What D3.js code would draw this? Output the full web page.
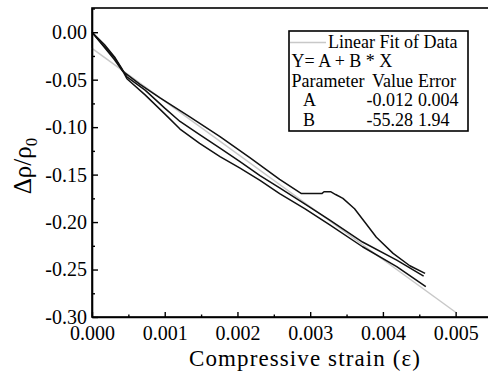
<!DOCTYPE html>
<html>
<head>
<meta charset="utf-8">
<script src="https://cdn.jsdelivr.net/npm/d3@7"></script>
<style>
  body { margin: 0; background: #fff; }
  svg { display: block; font-family: 'Liberation Serif', 'Times New Roman', serif; }
</style>
</head>
<body>
<div id="chart"></div>
<script>
var curveA = [[0,0],[0.00017,-0.016],[0.00031,-0.029],[0.00042,-0.041],[0.00066,-0.055],[0.00093,-0.069],
  [0.00134,-0.089],[0.00176,-0.110],[0.00217,-0.132],[0.00258,-0.155],[0.00288,-0.170],[0.00316,-0.170],
  [0.00319,-0.168],[0.00328,-0.168],[0.00335,-0.171],[0.00345,-0.175],[0.00361,-0.186],[0.00375,-0.200],
  [0.00391,-0.216],[0.00414,-0.233],[0.00437,-0.246],[0.00458,-0.254]];

var curveB = [[0,0],[0.00017,-0.013],[0.00031,-0.026],[0.00040,-0.037],[0.00048,-0.047],[0.00073,-0.061],
  [0.00100,-0.080],[0.00121,-0.094],[0.00148,-0.108],[0.00176,-0.122],[0.00203,-0.136],[0.00231,-0.151],
  [0.00258,-0.164],[0.00293,-0.181],[0.00327,-0.198],[0.00372,-0.221],[0.00419,-0.240],[0.00456,-0.257]];

var curveC = [[0,0],[0.00017,-0.015],[0.00031,-0.027],[0.00041,-0.039],[0.00048,-0.049],[0.00073,-0.066],
  [0.00100,-0.086],[0.00121,-0.102],[0.00148,-0.117],[0.00176,-0.131],[0.00203,-0.143],[0.00231,-0.156],
  [0.00258,-0.170],[0.00293,-0.186],[0.00327,-0.203],[0.00372,-0.226],[0.00419,-0.247],[0.00459,-0.268]];

var fitLine = [[0,-0.017],[0.005,-0.295]];

var xTicks = [0, 0.001, 0.002, 0.003, 0.004, 0.005];
var xTickLabels = ['0.000', '0.001', '0.002', '0.003', '0.004', '0.005'];
var xMinor = [0.0005, 0.0015, 0.0025, 0.0035, 0.0045];
var yTicks = [0, -0.05, -0.10, -0.15, -0.20, -0.25, -0.30];
var yTickLabels = ['0.00', '-0.05', '-0.10', '-0.15', '-0.20', '-0.25', '-0.30'];
var yMinor = [0.025, -0.025, -0.075, -0.125, -0.175, -0.225, -0.275];

var fitRows = [
  ['Y= A + B * X', '', ''],
  ['Parameter', 'Value', 'Error'],
  ['A', '-0.012', '0.004'],
  ['B', '-55.28', '1.94']
];

var settings = {
  width: 488,
  height: 373,
  left: 92,
  right: 492,
  top: 8,
  bottom: 317
};

var x = d3.scaleLinear().domain([0, 0.0055]).range([settings.left, settings.right]);
var y = d3.scaleLinear().domain([-0.30, 0.0255]).range([settings.bottom, settings.top]);

var svg = d3.select('#chart').append('svg')
  .attr('width', settings.width)
  .attr('height', settings.height);

// frame (right side falls outside the picture)
svg.append('rect')
  .attr('x', settings.left)
  .attr('y', settings.top)
  .attr('width', settings.right - settings.left)
  .attr('height', settings.bottom - settings.top)
  .attr('fill', 'none')
  .attr('stroke', '#000')
  .attr('stroke-width', 1.6);

var line = d3.line()
  .x(function(d) { return x(d[0]); })
  .y(function(d) { return y(d[1]); });

svg.append('path')
  .datum(fitLine)
  .attr('d', line)
  .attr('fill', 'none')
  .attr('stroke', '#c8c8c8')
  .attr('stroke-width', 1.5);

svg.selectAll('path.curve')
  .data([curveA, curveB, curveC])
  .enter().append('path')
  .attr('class', 'curve')
  .attr('d', line)
  .attr('fill', 'none')
  .attr('stroke', '#111')
  .attr('stroke-width', 1.5)
  .attr('stroke-linejoin', 'round');

// axes, ticks pointing inward
svg.append('g')
  .attr('transform', 'translate(0,' + settings.bottom + ')')
  .call(d3.axisBottom(x).tickValues(xTicks)
    .tickFormat(function(d, i) { return xTickLabels[i]; })
    .tickSizeInner(-5).tickSizeOuter(0).tickPadding(9));

svg.append('g')
  .attr('transform', 'translate(0,' + settings.bottom + ')')
  .call(d3.axisBottom(x).tickValues(xMinor).tickFormat('').tickSizeInner(-2.5).tickSizeOuter(0))
  .select('.domain').remove();

svg.append('g')
  .attr('transform', 'translate(' + settings.left + ',0)')
  .call(d3.axisLeft(y).tickValues(yTicks)
    .tickFormat(function(d, i) { return yTickLabels[i]; })
    .tickSizeInner(-6).tickSizeOuter(0).tickPadding(5));

svg.append('g')
  .attr('transform', 'translate(' + settings.left + ',0)')
  .call(d3.axisLeft(y).tickValues(yMinor).tickFormat('').tickSizeInner(-3).tickSizeOuter(0))
  .select('.domain').remove();

svg.selectAll('.tick line').attr('stroke', '#000').attr('stroke-width', 1.4);
svg.selectAll('.domain').attr('stroke', '#000').attr('stroke-width', 1.6);
svg.selectAll('.tick text')
  .attr('font-family', "'Liberation Serif', 'Times New Roman', serif")
  .attr('font-size', 20)
  .attr('fill', '#000');

// axis titles
svg.append('text')
  .attr('x', 305)
  .attr('y', 366)
  .attr('text-anchor', 'middle')
  .attr('font-size', 23)
  .attr('letter-spacing', 1.1)
  .text('Compressive strain (\u03b5)');

var yLabel = svg.append('text')
  .attr('transform', 'translate(31,166) rotate(-90)')
  .attr('text-anchor', 'middle')
  .attr('font-size', 25);
yLabel.append('tspan').text('\u0394\u03c1/\u03c1');
yLabel.append('tspan').attr('font-size', 17).attr('dy', 6).text('0');

// fit results box
var box = svg.append('g');
box.append('rect')
  .attr('x', 289).attr('y', 31)
  .attr('width', 179).attr('height', 100)
  .attr('fill', '#fff')
  .attr('stroke', '#000')
  .attr('stroke-width', 1.6);

box.append('line')
  .attr('x1', 290).attr('x2', 326)
  .attr('y1', 42.5).attr('y2', 42.5)
  .attr('stroke', '#c8c8c8')
  .attr('stroke-width', 1.5);

box.append('text')
  .attr('x', 328).attr('y', 48)
  .attr('font-size', 18)
  .text('Linear Fit of Data');

var rows = box.selectAll('g.row')
  .data(fitRows)
  .enter().append('g')
  .attr('class', 'row')
  .attr('transform', function(d, i) { return 'translate(0,' + (67 + i * 19.7) + ')'; })
  .attr('font-size', 18);

rows.append('text')
  .attr('x', function(d, i) { return i < 2 ? 291.5 : 303; })
  .text(function(d) { return d[0]; });
rows.append('text')
  .attr('x', 413)
  .attr('text-anchor', 'end')
  .text(function(d) { return d[1]; });
rows.append('text')
  .attr('x', 418)
  .text(function(d) { return d[2]; });
</script>
</body>
</html>
